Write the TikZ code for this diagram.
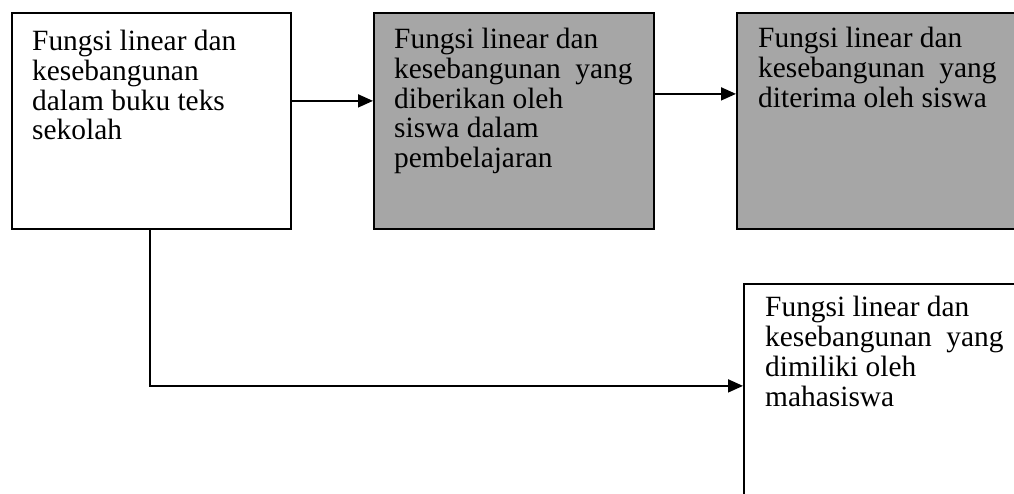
\documentclass[tikz,border=0pt]{standalone}
\usepackage{fontspec}
\setmainfont{Liberation Serif}
\usetikzlibrary{arrows.meta}
\definecolor{boxgray}{RGB}{166,166,166}
\begin{document}
\begin{tikzpicture}[x=1pt,y=-1pt,
  boxstyle/.style={draw=black,line width=1.8pt,rectangle,inner sep=0pt,anchor=north west},
  whitebox/.style={boxstyle,fill=white},
  graybox/.style={boxstyle,fill=boxgray},
  txt/.style={anchor=north west,inner sep=0pt,align=left,font=\fontsize{29.4}{29.8}\selectfont},
  arr/.style={line width=1.8pt,-{Triangle[length=15pt,width=13pt]}}]
\useasboundingbox (0,0) rectangle (1014,494);
\clip (0,0) rectangle (1014,494);
\node[whitebox,minimum width=279pt,minimum height=216pt] (boxA) at (11,12) {};
\node[graybox,minimum width=280pt,minimum height=216pt] (boxB) at (373,12) {};
\node[graybox,minimum width=300pt,minimum height=216pt] (boxC) at (736,12) {};
\node[whitebox,minimum width=300pt,minimum height=230pt] (boxD) at (743,283) {};
\node[txt] (tA) at (32,30) {Fungsi linear dan\\kesebangunan\\dalam buku teks\\sekolah};
\node[txt] (tB) at (394,28) {Fungsi linear dan\\kesebangunan\ \ yang\\diberikan oleh\\siswa dalam\\pembelajaran};
\node[txt] (tC) at (758,27) {Fungsi linear dan\\kesebangunan\ \ yang\\diterima oleh siswa};
\node[txt] (tD) at (765,296) {Fungsi linear dan\\kesebangunan\ \ yang\\dimiliki oleh\\mahasiswa};
\draw[arr] ([yshift=20pt]boxA.east) -- ([yshift=20pt]boxB.west);
\draw[arr] ([yshift=27pt]boxB.east) -- ([yshift=27pt]boxC.west);
\draw[arr] ([xshift=-1.5pt]boxA.south) |- ([yshift=13pt]boxD.west);
\end{tikzpicture}
\end{document}
